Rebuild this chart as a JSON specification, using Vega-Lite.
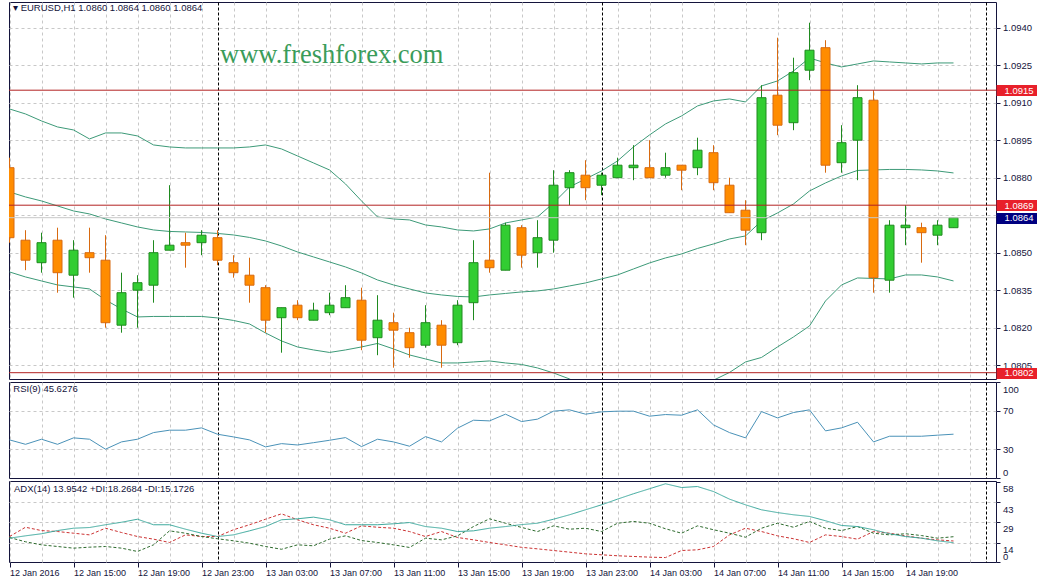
{
  "$schema": "https://vega.github.io/schema/vega-lite/v6.json",
  "background": "#ffffff",
  "padding": {"left": 7, "top": 1, "right": 0, "bottom": 0},
  "config": {
    "font": "Liberation Sans",
    "view": {"stroke": "#14143c", "strokeWidth": 1},
    "axis": {"labelFont": "Liberation Sans", "labelFontSize": 9.5, "labelColor": "#14143c", "tickColor": "#14143c", "gridColor": "#c8c8c8", "gridDash": [3, 3], "gridWidth": 1, "domain": false},
    "title": {"font": "Liberation Sans", "fontSize": 9.5, "fontWeight": "normal", "color": "#14143c", "anchor": "start", "frame": "group", "baseline": "alphabetic"}
  },
  "datasets": {
    "bars": [
      {"t":"2016-01-12T11:00:00Z","o":1.0884,"h":1.0888,"l":1.0854,"c":1.0856,"bu":1.09075,"bm":1.08743,"bl":1.08423,"rsi":39.7,"adx":17.2,"pdi":17.7,"mdi":18.4},
      {"t":"2016-01-12T12:00:00Z","o":1.0855,"h":1.0859,"l":1.0843,"c":1.0847,"bu":1.09055,"bm":1.08723,"bl":1.08403,"rsi":35.1,"adx":18.9,"pdi":14.6,"mdi":25.1},
      {"t":"2016-01-12T13:00:00Z","o":1.0846,"h":1.0858,"l":1.0842,"c":1.0854,"bu":1.09027,"bm":1.08707,"bl":1.08387,"rsi":40.4,"adx":20.4,"pdi":12.4,"mdi":22.7},
      {"t":"2016-01-12T14:00:00Z","o":1.0855,"h":1.0860,"l":1.0834,"c":1.0842,"bu":1.09003,"bm":1.08687,"bl":1.08371,"rsi":35.1,"adx":22.7,"pdi":11.2,"mdi":22.0},
      {"t":"2016-01-12T15:00:00Z","o":1.0841,"h":1.0855,"l":1.0832,"c":1.0851,"bu":1.08991,"bm":1.08667,"bl":1.08363,"rsi":41.8,"adx":24.4,"pdi":10.0,"mdi":20.8},
      {"t":"2016-01-12T16:00:00Z","o":1.0850,"h":1.0860,"l":1.0842,"c":1.0848,"bu":1.08955,"bm":1.08655,"bl":1.08355,"rsi":40.4,"adx":24.9,"pdi":10.7,"mdi":19.6},
      {"t":"2016-01-12T17:00:00Z","o":1.0847,"h":1.0857,"l":1.0820,"c":1.0822,"bu":1.08979,"bm":1.08635,"bl":1.08311,"rsi":30.0,"adx":26.9,"pdi":11.2,"mdi":24.4},
      {"t":"2016-01-12T18:00:00Z","o":1.0821,"h":1.0842,"l":1.0818,"c":1.0834,"bu":1.08979,"bm":1.08619,"bl":1.08275,"rsi":37.6,"adx":28.7,"pdi":10.0,"mdi":21.3},
      {"t":"2016-01-12T19:00:00Z","o":1.0835,"h":1.0841,"l":1.0820,"c":1.0838,"bu":1.08967,"bm":1.08603,"bl":1.08243,"rsi":40.4,"adx":30.9,"pdi":7.6,"mdi":18.4},
      {"t":"2016-01-12T20:00:00Z","o":1.0837,"h":1.0855,"l":1.0830,"c":1.0850,"bu":1.08931,"bm":1.08591,"bl":1.08245,"rsi":47.3,"adx":26.9,"pdi":12.4,"mdi":16.5},
      {"t":"2016-01-12T21:00:00Z","o":1.0851,"h":1.0877,"l":1.0851,"c":1.0853,"bu":1.08923,"bm":1.08585,"bl":1.08245,"rsi":49.8,"adx":26.9,"pdi":22.5,"mdi":14.1},
      {"t":"2016-01-12T22:00:00Z","o":1.0854,"h":1.0858,"l":1.0844,"c":1.0853,"bu":1.08919,"bm":1.08583,"bl":1.08245,"rsi":49.8,"adx":23.7,"pdi":20.8,"mdi":19.6},
      {"t":"2016-01-12T23:00:00Z","o":1.0854,"h":1.0859,"l":1.0849,"c":1.0857,"bu":1.08919,"bm":1.08581,"bl":1.08245,"rsi":52.2,"adx":20.8,"pdi":18.4,"mdi":18.4},
      {"t":"2016-01-13T00:00:00Z","o":1.0856,"h":1.0859,"l":1.0845,"c":1.0847,"bu":1.08919,"bm":1.08577,"bl":1.08239,"rsi":45.6,"adx":18.4,"pdi":16.8,"mdi":18.4},
      {"t":"2016-01-13T01:00:00Z","o":1.0846,"h":1.0849,"l":1.0840,"c":1.0842,"bu":1.08919,"bm":1.08571,"bl":1.08229,"rsi":42.8,"adx":19.6,"pdi":15.3,"mdi":23.3},
      {"t":"2016-01-13T02:00:00Z","o":1.0841,"h":1.0848,"l":1.0830,"c":1.0837,"bu":1.08923,"bm":1.08561,"bl":1.08215,"rsi":39.7,"adx":22.5,"pdi":13.6,"mdi":26.9},
      {"t":"2016-01-13T03:00:00Z","o":1.0836,"h":1.0837,"l":1.0818,"c":1.0823,"bu":1.08931,"bm":1.08547,"bl":1.08179,"rsi":32.4,"adx":25.6,"pdi":11.2,"mdi":30.9},
      {"t":"2016-01-13T04:00:00Z","o":1.0824,"h":1.0828,"l":1.0810,"c":1.0828,"bu":1.08915,"bm":1.08527,"bl":1.08147,"rsi":35.8,"adx":30.5,"pdi":9.2,"mdi":34.8},
      {"t":"2016-01-13T05:00:00Z","o":1.0829,"h":1.0831,"l":1.0823,"c":1.0824,"bu":1.08887,"bm":1.08503,"bl":1.08123,"rsi":34.4,"adx":31.2,"pdi":12.4,"mdi":30.5},
      {"t":"2016-01-13T06:00:00Z","o":1.0823,"h":1.0830,"l":1.0823,"c":1.0827,"bu":1.08859,"bm":1.08483,"bl":1.08111,"rsi":36.8,"adx":32.4,"pdi":11.7,"mdi":26.9},
      {"t":"2016-01-13T07:00:00Z","o":1.0826,"h":1.0834,"l":1.0825,"c":1.0829,"bu":1.08831,"bm":1.08463,"bl":1.08101,"rsi":39.3,"adx":30.5,"pdi":16.5,"mdi":24.4},
      {"t":"2016-01-13T08:00:00Z","o":1.0828,"h":1.0837,"l":1.0828,"c":1.0832,"bu":1.08775,"bm":1.08443,"bl":1.08111,"rsi":42.1,"adx":26.9,"pdi":18.9,"mdi":20.8},
      {"t":"2016-01-13T09:00:00Z","o":1.0831,"h":1.0836,"l":1.0811,"c":1.0815,"bu":1.08707,"bm":1.08419,"bl":1.08123,"rsi":32.7,"adx":26.9,"pdi":15.5,"mdi":26.1},
      {"t":"2016-01-13T10:00:00Z","o":1.0816,"h":1.0833,"l":1.0809,"c":1.0823,"bu":1.08643,"bm":1.08391,"bl":1.08137,"rsi":40.4,"adx":26.9,"pdi":14.1,"mdi":25.1},
      {"t":"2016-01-13T11:00:00Z","o":1.0822,"h":1.0826,"l":1.0804,"c":1.0819,"bu":1.08635,"bm":1.08371,"bl":1.08115,"rsi":37.6,"adx":27.6,"pdi":12.4,"mdi":24.4},
      {"t":"2016-01-13T12:00:00Z","o":1.0818,"h":1.0820,"l":1.0808,"c":1.0812,"bu":1.08631,"bm":1.08355,"bl":1.08091,"rsi":33.1,"adx":28.5,"pdi":10.5,"mdi":22.0},
      {"t":"2016-01-13T13:00:00Z","o":1.0813,"h":1.0829,"l":1.0812,"c":1.0822,"bu":1.08611,"bm":1.08339,"bl":1.08075,"rsi":43.1,"adx":25.6,"pdi":17.2,"mdi":18.4},
      {"t":"2016-01-13T14:00:00Z","o":1.0821,"h":1.0823,"l":1.0804,"c":1.0813,"bu":1.08603,"bm":1.08331,"bl":1.08059,"rsi":37.6,"adx":24.4,"pdi":16.0,"mdi":22.0},
      {"t":"2016-01-13T15:00:00Z","o":1.0814,"h":1.0831,"l":1.0813,"c":1.0829,"bu":1.08591,"bm":1.08325,"bl":1.08059,"rsi":51.9,"adx":22.0,"pdi":18.9,"mdi":17.7},
      {"t":"2016-01-13T16:00:00Z","o":1.0830,"h":1.0855,"l":1.0823,"c":1.0846,"bu":1.08587,"bm":1.08323,"bl":1.08063,"rsi":60.2,"adx":22.5,"pdi":25.6,"mdi":16.0},
      {"t":"2016-01-13T17:00:00Z","o":1.0847,"h":1.0882,"l":1.0842,"c":1.0844,"bu":1.08595,"bm":1.08331,"bl":1.08067,"rsi":59.5,"adx":24.4,"pdi":31.2,"mdi":14.1},
      {"t":"2016-01-13T18:00:00Z","o":1.0843,"h":1.0862,"l":1.0843,"c":1.0861,"bu":1.08619,"bm":1.08337,"bl":1.08059,"rsi":66.5,"adx":25.6,"pdi":28.0,"mdi":12.4},
      {"t":"2016-01-13T19:00:00Z","o":1.0860,"h":1.0861,"l":1.0844,"c":1.0849,"bu":1.08631,"bm":1.08343,"bl":1.08053,"rsi":58.8,"adx":27.0,"pdi":25.0,"mdi":10.6},
      {"t":"2016-01-13T20:00:00Z","o":1.0850,"h":1.0863,"l":1.0844,"c":1.0856,"bu":1.08643,"bm":1.08347,"bl":1.08039,"rsi":61.3,"adx":28.0,"pdi":22.0,"mdi":9.5},
      {"t":"2016-01-13T21:00:00Z","o":1.0855,"h":1.0883,"l":1.0850,"c":1.0877,"bu":1.08699,"bm":1.08355,"bl":1.08019,"rsi":69.6,"adx":30.9,"pdi":26.1,"mdi":8.3},
      {"t":"2016-01-13T22:00:00Z","o":1.0876,"h":1.0883,"l":1.0869,"c":1.0882,"bu":1.08763,"bm":1.08367,"bl":1.07995,"rsi":71.0,"adx":34.1,"pdi":23.7,"mdi":7.1},
      {"t":"2016-01-13T23:00:00Z","o":1.0881,"h":1.0887,"l":1.0871,"c":1.0876,"bu":1.08795,"bm":1.08379,"bl":1.07963,"rsi":66.5,"adx":37.7,"pdi":24.4,"mdi":5.9},
      {"t":"2016-01-14T00:00:00Z","o":1.0877,"h":1.0882,"l":1.0873,"c":1.0881,"bu":1.08827,"bm":1.08395,"bl":1.07963,"rsi":68.9,"adx":41.3,"pdi":22.0,"mdi":5.2},
      {"t":"2016-01-14T01:00:00Z","o":1.0880,"h":1.0888,"l":1.0880,"c":1.0885,"bu":1.08867,"bm":1.08411,"bl":1.07955,"rsi":69.6,"adx":45.4,"pdi":28.0,"mdi":4.5},
      {"t":"2016-01-14T02:00:00Z","o":1.0884,"h":1.0893,"l":1.0879,"c":1.0885,"bu":1.08923,"bm":1.08435,"bl":1.07947,"rsi":69.6,"adx":49.3,"pdi":29.3,"mdi":4.0},
      {"t":"2016-01-14T03:00:00Z","o":1.0884,"h":1.0895,"l":1.0880,"c":1.0880,"bu":1.08971,"bm":1.08459,"bl":1.07947,"rsi":64.4,"adx":52.9,"pdi":28.0,"mdi":3.5},
      {"t":"2016-01-14T04:00:00Z","o":1.0881,"h":1.0890,"l":1.0880,"c":1.0884,"bu":1.09015,"bm":1.08479,"bl":1.07943,"rsi":66.1,"adx":56.5,"pdi":24.0,"mdi":3.2},
      {"t":"2016-01-14T05:00:00Z","o":1.0885,"h":1.0885,"l":1.0875,"c":1.0883,"bu":1.09047,"bm":1.08495,"bl":1.07943,"rsi":65.4,"adx":53.8,"pdi":20.8,"mdi":8.3},
      {"t":"2016-01-14T06:00:00Z","o":1.0884,"h":1.0896,"l":1.0881,"c":1.0891,"bu":1.09087,"bm":1.08517,"bl":1.07947,"rsi":71.0,"adx":54.5,"pdi":26.1,"mdi":8.8},
      {"t":"2016-01-14T07:00:00Z","o":1.0890,"h":1.0893,"l":1.0875,"c":1.0878,"bu":1.09107,"bm":1.08535,"bl":1.07990,"rsi":55.3,"adx":50.9,"pdi":23.3,"mdi":11.2},
      {"t":"2016-01-14T08:00:00Z","o":1.0877,"h":1.0880,"l":1.0866,"c":1.0866,"bu":1.09115,"bm":1.08555,"bl":1.08021,"rsi":47.3,"adx":45.4,"pdi":20.8,"mdi":19.6},
      {"t":"2016-01-14T09:00:00Z","o":1.0867,"h":1.0871,"l":1.0853,"c":1.0859,"bu":1.09103,"bm":1.08567,"bl":1.08063,"rsi":41.8,"adx":41.3,"pdi":17.9,"mdi":24.4},
      {"t":"2016-01-14T10:00:00Z","o":1.0858,"h":1.0917,"l":1.0855,"c":1.0912,"bu":1.09167,"bm":1.08627,"bl":1.08081,"rsi":69.2,"adx":37.7,"pdi":24.4,"mdi":22.0},
      {"t":"2016-01-14T11:00:00Z","o":1.0913,"h":1.0936,"l":1.0897,"c":1.0901,"bu":1.09187,"bm":1.08659,"bl":1.08123,"rsi":62.6,"adx":35.7,"pdi":28.0,"mdi":18.9},
      {"t":"2016-01-14T12:00:00Z","o":1.0902,"h":1.0928,"l":1.0899,"c":1.0922,"bu":1.09227,"bm":1.08695,"bl":1.08163,"rsi":68.2,"adx":34.1,"pdi":25.1,"mdi":16.8},
      {"t":"2016-01-14T13:00:00Z","o":1.0923,"h":1.0942,"l":1.0919,"c":1.0931,"bu":1.09279,"bm":1.08747,"bl":1.08207,"rsi":71.0,"adx":32.9,"pdi":29.3,"mdi":14.1},
      {"t":"2016-01-14T14:00:00Z","o":1.0932,"h":1.0935,"l":1.0882,"c":1.0885,"bu":1.09259,"bm":1.08779,"bl":1.08307,"rsi":49.1,"adx":29.8,"pdi":24.4,"mdi":19.6},
      {"t":"2016-01-14T15:00:00Z","o":1.0886,"h":1.0901,"l":1.0882,"c":1.0894,"bu":1.09243,"bm":1.08807,"bl":1.08371,"rsi":52.2,"adx":26.4,"pdi":22.7,"mdi":18.4},
      {"t":"2016-01-14T16:00:00Z","o":1.0895,"h":1.0917,"l":1.0879,"c":1.0912,"bu":1.09255,"bm":1.08829,"bl":1.08399,"rsi":58.1,"adx":25.6,"pdi":25.6,"mdi":16.5},
      {"t":"2016-01-14T17:00:00Z","o":1.0911,"h":1.0915,"l":1.0834,"c":1.0840,"bu":1.09267,"bm":1.08831,"bl":1.08397,"rsi":37.6,"adx":23.3,"pdi":20.8,"mdi":22.0},
      {"t":"2016-01-14T18:00:00Z","o":1.0839,"h":1.0863,"l":1.0834,"c":1.0861,"bu":1.09263,"bm":1.08833,"bl":1.08395,"rsi":43.5,"adx":20.4,"pdi":19.6,"mdi":20.8},
      {"t":"2016-01-14T19:00:00Z","o":1.0860,"h":1.0869,"l":1.0853,"c":1.0861,"bu":1.09259,"bm":1.08833,"bl":1.08411,"rsi":43.5,"adx":18.4,"pdi":20.4,"mdi":18.9},
      {"t":"2016-01-14T20:00:00Z","o":1.0860,"h":1.0862,"l":1.0846,"c":1.0858,"bu":1.09255,"bm":1.08831,"bl":1.08411,"rsi":43.5,"adx":17.2,"pdi":19.1,"mdi":17.2},
      {"t":"2016-01-14T21:00:00Z","o":1.0857,"h":1.0863,"l":1.0853,"c":1.0861,"bu":1.09259,"bm":1.08827,"bl":1.08403,"rsi":44.6,"adx":15.3,"pdi":17.2,"mdi":16.0},
      {"t":"2016-01-14T22:00:00Z","o":1.0860,"h":1.0864,"l":1.0860,"c":1.0864,"bu":1.09259,"bm":1.08819,"bl":1.08387,"rsi":45.6276,"adx":13.9542,"pdi":18.2684,"mdi":15.1726}
    ],
    "levels": [{"p": 1.0915}, {"p": 1.0869}, {"p": 1.0802}],
    "bid": [{"p": 1.0864}],
    "wm": [{"label": "www.freshforex.com"}]
  },
  "vconcat": [
    {
      "width": 987,
      "height": 377,
      "title": {"text": "▾ EURUSD,H1 1.0860 1.0864 1.0860 1.0864", "offset": -10, "dx": 4},
      "layer": [
        {
          "data": {"name": "bars"},
          "encoding": {
            "x": {
              "field": "t", "type": "temporal",
              "scale": {"type": "utc", "padding": 0, "domain": [{"year":2016,"month":1,"date":12,"hours":10,"minutes":58,"seconds":7,"milliseconds":500,"utc":true}, {"year":2016,"month":1,"date":15,"hours":0,"minutes":39,"seconds":22,"milliseconds":500,"utc":true}]},
              "axis": {
                "title": null, "labels": false, "ticks": false, "domain": false, "grid": true,
                "gridColor": {"condition": {"test": "utchours(datum.value) == 0", "value": "#000000"}, "value": "#c8c8c8"},
                "gridDash": {"condition": {"test": "utchours(datum.value) == 0", "value": [3, 2]}, "value": [3, 3]},
                "values": [
                  {"year":2016,"month":1,"date":12,"hours":11,"utc":true},{"year":2016,"month":1,"date":12,"hours":13,"utc":true},{"year":2016,"month":1,"date":12,"hours":15,"utc":true},{"year":2016,"month":1,"date":12,"hours":17,"utc":true},{"year":2016,"month":1,"date":12,"hours":19,"utc":true},{"year":2016,"month":1,"date":12,"hours":21,"utc":true},{"year":2016,"month":1,"date":12,"hours":23,"utc":true},
                  {"year":2016,"month":1,"date":13,"hours":0,"utc":true},{"year":2016,"month":1,"date":13,"hours":1,"utc":true},{"year":2016,"month":1,"date":13,"hours":3,"utc":true},{"year":2016,"month":1,"date":13,"hours":5,"utc":true},{"year":2016,"month":1,"date":13,"hours":7,"utc":true},{"year":2016,"month":1,"date":13,"hours":9,"utc":true},{"year":2016,"month":1,"date":13,"hours":11,"utc":true},{"year":2016,"month":1,"date":13,"hours":13,"utc":true},{"year":2016,"month":1,"date":13,"hours":15,"utc":true},{"year":2016,"month":1,"date":13,"hours":17,"utc":true},{"year":2016,"month":1,"date":13,"hours":19,"utc":true},{"year":2016,"month":1,"date":13,"hours":21,"utc":true},{"year":2016,"month":1,"date":13,"hours":23,"utc":true},
                  {"year":2016,"month":1,"date":14,"hours":0,"utc":true},{"year":2016,"month":1,"date":14,"hours":1,"utc":true},{"year":2016,"month":1,"date":14,"hours":3,"utc":true},{"year":2016,"month":1,"date":14,"hours":5,"utc":true},{"year":2016,"month":1,"date":14,"hours":7,"utc":true},{"year":2016,"month":1,"date":14,"hours":9,"utc":true},{"year":2016,"month":1,"date":14,"hours":11,"utc":true},{"year":2016,"month":1,"date":14,"hours":13,"utc":true},{"year":2016,"month":1,"date":14,"hours":15,"utc":true},{"year":2016,"month":1,"date":14,"hours":17,"utc":true},{"year":2016,"month":1,"date":14,"hours":19,"utc":true},{"year":2016,"month":1,"date":14,"hours":21,"utc":true},{"year":2016,"month":1,"date":14,"hours":23,"utc":true},
                  {"year":2016,"month":1,"date":15,"hours":0,"utc":true}
                ]
              }
            }
          },
          "layer": [
            {
              "transform": [{"fold": ["bu", "bm", "bl"], "as": ["band", "bv"]}],
              "mark": {"type": "line", "color": "#3d9a78", "strokeWidth": 1, "clip": true},
              "encoding": {
                "detail": {"field": "band", "type": "nominal"},
                "y": {"field": "bv", "type": "quantitative", "scale": {"domain": [1.079948, 1.095028], "nice": false, "zero": false},
                      "axis": {"orient": "right", "title": null, "format": ".4f", "grid": true, "tickSize": 4, "labelPadding": 2.5, "labelOverlap": false, "domain": false,
                               "values": [1.0805, 1.082, 1.0835, 1.085, 1.0865, 1.088, 1.0895, 1.091, 1.0925, 1.094]}}
              }
            },
            {
              "mark": {"type": "rule", "strokeWidth": 1, "clip": true},
              "encoding": {
                "y": {"field": "l", "type": "quantitative", "scale": {"domain": [1.079948, 1.095028], "nice": false, "zero": false}, "axis": null},
                "y2": {"field": "h"},
                "stroke": {"condition": {"test": "datum.c >= datum.o", "value": "#1f8a1f"}, "value": "#d86a10"}
              }
            },
            {
              "mark": {"type": "bar", "width": 9, "strokeWidth": 1, "clip": true},
              "encoding": {
                "y": {"field": "o", "type": "quantitative", "scale": {"domain": [1.079948, 1.095028], "nice": false, "zero": false}, "axis": null},
                "y2": {"field": "c"},
                "fill": {"condition": {"test": "datum.c >= datum.o", "value": "#32cd32"}, "value": "#ff8c00"},
                "stroke": {"condition": {"test": "datum.c >= datum.o", "value": "#1f8a1f"}, "value": "#d86a10"}
              }
            }
          ],
          "resolve": {"scale": {"y": "independent"}, "axis": {"y": "independent"}}
        },
        {
          "data": {"name": "wm"},
          "mark": {"type": "text", "font": "Liberation Serif", "fontSize": 26.5, "color": "#3a9c5a", "align": "left", "baseline": "alphabetic"},
          "encoding": {
            "text": {"field": "label"},
            "x": {
              "datum": {"year":2016,"month":1,"date":13,"hours":0,"minutes":9,"seconds":22,"utc":true}, "type": "temporal",
              "scale": {"type": "utc", "padding": 0, "domain": [{"year":2016,"month":1,"date":12,"hours":10,"minutes":58,"seconds":7,"milliseconds":500,"utc":true}, {"year":2016,"month":1,"date":15,"hours":0,"minutes":39,"seconds":22,"milliseconds":500,"utc":true}]},
              "axis": {
                "title": null, "labels": false, "ticks": false, "domain": false, "grid": true,
                "gridColor": {"condition": {"test": "utchours(datum.value) == 0", "value": "#000000"}, "value": "#c8c8c8"},
                "gridDash": {"condition": {"test": "utchours(datum.value) == 0", "value": [3, 2]}, "value": [3, 3]},
                "values": [
                  {"year":2016,"month":1,"date":12,"hours":11,"utc":true},{"year":2016,"month":1,"date":12,"hours":13,"utc":true},{"year":2016,"month":1,"date":12,"hours":15,"utc":true},{"year":2016,"month":1,"date":12,"hours":17,"utc":true},{"year":2016,"month":1,"date":12,"hours":19,"utc":true},{"year":2016,"month":1,"date":12,"hours":21,"utc":true},{"year":2016,"month":1,"date":12,"hours":23,"utc":true},
                  {"year":2016,"month":1,"date":13,"hours":0,"utc":true},{"year":2016,"month":1,"date":13,"hours":1,"utc":true},{"year":2016,"month":1,"date":13,"hours":3,"utc":true},{"year":2016,"month":1,"date":13,"hours":5,"utc":true},{"year":2016,"month":1,"date":13,"hours":7,"utc":true},{"year":2016,"month":1,"date":13,"hours":9,"utc":true},{"year":2016,"month":1,"date":13,"hours":11,"utc":true},{"year":2016,"month":1,"date":13,"hours":13,"utc":true},{"year":2016,"month":1,"date":13,"hours":15,"utc":true},{"year":2016,"month":1,"date":13,"hours":17,"utc":true},{"year":2016,"month":1,"date":13,"hours":19,"utc":true},{"year":2016,"month":1,"date":13,"hours":21,"utc":true},{"year":2016,"month":1,"date":13,"hours":23,"utc":true},
                  {"year":2016,"month":1,"date":14,"hours":0,"utc":true},{"year":2016,"month":1,"date":14,"hours":1,"utc":true},{"year":2016,"month":1,"date":14,"hours":3,"utc":true},{"year":2016,"month":1,"date":14,"hours":5,"utc":true},{"year":2016,"month":1,"date":14,"hours":7,"utc":true},{"year":2016,"month":1,"date":14,"hours":9,"utc":true},{"year":2016,"month":1,"date":14,"hours":11,"utc":true},{"year":2016,"month":1,"date":14,"hours":13,"utc":true},{"year":2016,"month":1,"date":14,"hours":15,"utc":true},{"year":2016,"month":1,"date":14,"hours":17,"utc":true},{"year":2016,"month":1,"date":14,"hours":19,"utc":true},{"year":2016,"month":1,"date":14,"hours":21,"utc":true},{"year":2016,"month":1,"date":14,"hours":23,"utc":true},
                  {"year":2016,"month":1,"date":15,"hours":0,"utc":true}
                ]
              }
            },
            "y": {"datum": 1.0926, "type": "quantitative", "scale": {"domain": [1.079948, 1.095028], "nice": false, "zero": false}, "axis": null}
          }
        },
        {
          "data": {"name": "levels"},
          "mark": {"type": "rule", "color": "#b22222", "strokeWidth": 1},
          "encoding": {
            "y": {"field": "p", "type": "quantitative", "scale": {"domain": [1.079948, 1.095028], "nice": false, "zero": false},
                  "axis": {"orient": "right", "title": null, "format": ".4f", "grid": false, "domain": false, "ticks": true, "tickSize": 43, "tickWidth": 11, "tickColor": "#e8202a", "tickCap": "butt",
                           "labelColor": "#ffffff", "labelPadding": -35, "labelOverlap": false, "zindex": 1, "values": [1.0915, 1.0869, 1.0802]}}
          }
        },
        {
          "data": {"name": "bid"},
          "mark": {"type": "rule", "color": "#c8c8c8", "strokeWidth": 1},
          "encoding": {
            "y": {"field": "p", "type": "quantitative", "scale": {"domain": [1.079948, 1.095028], "nice": false, "zero": false},
                  "axis": {"orient": "right", "title": null, "format": ".4f", "grid": false, "domain": false, "ticks": true, "tickSize": 43, "tickWidth": 11, "tickColor": "#000080", "tickCap": "butt",
                           "labelColor": "#ffffff", "labelPadding": -35, "labelOverlap": false, "zindex": 1, "values": [1.0864]}}
          }
        }
      ],
      "resolve": {"scale": {"y": "independent"}, "axis": {"y": "independent"}}
    },
    {
      "width": 987,
      "height": 96,
      "title": {"text": "RSI(9) 45.6276", "offset": -11.7, "dx": 4.3},
      "data": {"name": "bars"},
      "mark": {"type": "line", "color": "#4a92b8", "strokeWidth": 1},
      "encoding": {
        "x": {
          "field": "t", "type": "temporal",
          "scale": {"type": "utc", "padding": 0, "domain": [{"year":2016,"month":1,"date":12,"hours":10,"minutes":58,"seconds":7,"milliseconds":500,"utc":true}, {"year":2016,"month":1,"date":15,"hours":0,"minutes":39,"seconds":22,"milliseconds":500,"utc":true}]},
          "axis": {
            "title": null, "labels": false, "ticks": false, "domain": false, "grid": true,
            "gridColor": {"condition": {"test": "utchours(datum.value) == 0", "value": "#000000"}, "value": "#c8c8c8"},
            "gridDash": {"condition": {"test": "utchours(datum.value) == 0", "value": [3, 2]}, "value": [3, 3]},
            "values": [
              {"year":2016,"month":1,"date":12,"hours":11,"utc":true},{"year":2016,"month":1,"date":12,"hours":13,"utc":true},{"year":2016,"month":1,"date":12,"hours":15,"utc":true},{"year":2016,"month":1,"date":12,"hours":17,"utc":true},{"year":2016,"month":1,"date":12,"hours":19,"utc":true},{"year":2016,"month":1,"date":12,"hours":21,"utc":true},{"year":2016,"month":1,"date":12,"hours":23,"utc":true},
              {"year":2016,"month":1,"date":13,"hours":0,"utc":true},{"year":2016,"month":1,"date":13,"hours":1,"utc":true},{"year":2016,"month":1,"date":13,"hours":3,"utc":true},{"year":2016,"month":1,"date":13,"hours":5,"utc":true},{"year":2016,"month":1,"date":13,"hours":7,"utc":true},{"year":2016,"month":1,"date":13,"hours":9,"utc":true},{"year":2016,"month":1,"date":13,"hours":11,"utc":true},{"year":2016,"month":1,"date":13,"hours":13,"utc":true},{"year":2016,"month":1,"date":13,"hours":15,"utc":true},{"year":2016,"month":1,"date":13,"hours":17,"utc":true},{"year":2016,"month":1,"date":13,"hours":19,"utc":true},{"year":2016,"month":1,"date":13,"hours":21,"utc":true},{"year":2016,"month":1,"date":13,"hours":23,"utc":true},
              {"year":2016,"month":1,"date":14,"hours":0,"utc":true},{"year":2016,"month":1,"date":14,"hours":1,"utc":true},{"year":2016,"month":1,"date":14,"hours":3,"utc":true},{"year":2016,"month":1,"date":14,"hours":5,"utc":true},{"year":2016,"month":1,"date":14,"hours":7,"utc":true},{"year":2016,"month":1,"date":14,"hours":9,"utc":true},{"year":2016,"month":1,"date":14,"hours":11,"utc":true},{"year":2016,"month":1,"date":14,"hours":13,"utc":true},{"year":2016,"month":1,"date":14,"hours":15,"utc":true},{"year":2016,"month":1,"date":14,"hours":17,"utc":true},{"year":2016,"month":1,"date":14,"hours":19,"utc":true},{"year":2016,"month":1,"date":14,"hours":21,"utc":true},{"year":2016,"month":1,"date":14,"hours":23,"utc":true},
              {"year":2016,"month":1,"date":15,"hours":0,"utc":true}
            ]
          }
        },
        "y": {
          "field": "rsi", "type": "quantitative",
          "scale": {"domain": [0, 100], "nice": false, "zero": false},
          "axis": {
            "orient": "right", "title": null, "values": [0, 30, 70, 100], "grid": true,
            "gridOpacity": {"condition": {"test": "datum.value == 30 || datum.value == 70", "value": 1}, "value": 0},
            "tickSize": 4, "labelPadding": 2.5, "labelOverlap": false, "domain": false,
            "labelBaseline": {"condition": [{"test": "datum.value == 100", "value": "top"}, {"test": "datum.value == 0", "value": "bottom"}], "value": "middle"},
            "labelOffset": {"condition": [{"test": "datum.value == 100", "value": 2}, {"test": "datum.value == 0", "value": -1}], "value": 0}
          }
        }
      }
    },
    {
      "width": 987,
      "height": 81,
      "title": {"text": "ADX(14) 13.9542 +DI:18.2684 -DI:15.1726", "offset": -12.7, "dx": 5},
      "data": {"name": "bars"},
      "transform": [{"fold": ["mdi", "pdi", "adx"], "as": ["series", "val"]}],
      "mark": {"type": "line", "strokeWidth": 1},
      "encoding": {
        "x": {
          "field": "t", "type": "temporal",
          "scale": {"type": "utc", "padding": 0, "domain": [{"year":2016,"month":1,"date":12,"hours":10,"minutes":58,"seconds":7,"milliseconds":500,"utc":true}, {"year":2016,"month":1,"date":15,"hours":0,"minutes":39,"seconds":22,"milliseconds":500,"utc":true}]},
          "axis": {
            "orient": "bottom", "title": null, "domain": false, "grid": true,
            "gridColor": {"condition": {"test": "utchours(datum.value) == 0", "value": "#000000"}, "value": "#c8c8c8"},
            "gridDash": {"condition": {"test": "utchours(datum.value) == 0", "value": [3, 2]}, "value": [3, 3]},
            "ticks": true, "tickSize": 5,
            "tickOpacity": {"condition": {"test": "utchours(datum.value) % 4 == 3 && !(utcdate(datum.value) == 14 && utchours(datum.value) == 23)", "value": 1}, "value": 0},
            "labelExpr": "(utchours(datum.value) % 4 != 3 || (utcdate(datum.value) == 14 && utchours(datum.value) == 23)) ? '' : ((utcdate(datum.value) == 12 && utchours(datum.value) == 11) ? '12 Jan 2016' : utcFormat(datum.value, '%d %b %H:%M'))",
            "labelAlign": "left", "labelBaseline": "top", "labelPadding": 1, "labelFontSize": 9,
            "labelFlush": false, "labelOverlap": false, "labelBound": false,
            "values": [
              {"year":2016,"month":1,"date":12,"hours":11,"utc":true},{"year":2016,"month":1,"date":12,"hours":13,"utc":true},{"year":2016,"month":1,"date":12,"hours":15,"utc":true},{"year":2016,"month":1,"date":12,"hours":17,"utc":true},{"year":2016,"month":1,"date":12,"hours":19,"utc":true},{"year":2016,"month":1,"date":12,"hours":21,"utc":true},{"year":2016,"month":1,"date":12,"hours":23,"utc":true},
              {"year":2016,"month":1,"date":13,"hours":0,"utc":true},{"year":2016,"month":1,"date":13,"hours":1,"utc":true},{"year":2016,"month":1,"date":13,"hours":3,"utc":true},{"year":2016,"month":1,"date":13,"hours":5,"utc":true},{"year":2016,"month":1,"date":13,"hours":7,"utc":true},{"year":2016,"month":1,"date":13,"hours":9,"utc":true},{"year":2016,"month":1,"date":13,"hours":11,"utc":true},{"year":2016,"month":1,"date":13,"hours":13,"utc":true},{"year":2016,"month":1,"date":13,"hours":15,"utc":true},{"year":2016,"month":1,"date":13,"hours":17,"utc":true},{"year":2016,"month":1,"date":13,"hours":19,"utc":true},{"year":2016,"month":1,"date":13,"hours":21,"utc":true},{"year":2016,"month":1,"date":13,"hours":23,"utc":true},
              {"year":2016,"month":1,"date":14,"hours":0,"utc":true},{"year":2016,"month":1,"date":14,"hours":1,"utc":true},{"year":2016,"month":1,"date":14,"hours":3,"utc":true},{"year":2016,"month":1,"date":14,"hours":5,"utc":true},{"year":2016,"month":1,"date":14,"hours":7,"utc":true},{"year":2016,"month":1,"date":14,"hours":9,"utc":true},{"year":2016,"month":1,"date":14,"hours":11,"utc":true},{"year":2016,"month":1,"date":14,"hours":13,"utc":true},{"year":2016,"month":1,"date":14,"hours":15,"utc":true},{"year":2016,"month":1,"date":14,"hours":17,"utc":true},{"year":2016,"month":1,"date":14,"hours":19,"utc":true},{"year":2016,"month":1,"date":14,"hours":21,"utc":true},{"year":2016,"month":1,"date":14,"hours":23,"utc":true},
              {"year":2016,"month":1,"date":15,"hours":0,"utc":true}
            ]
          }
        },
        "y": {
          "field": "val", "type": "quantitative",
          "scale": {"domain": [0, 58.5], "nice": false, "zero": false},
          "axis": {
            "orient": "right", "title": null, "values": [0, 14, 29, 43, 58], "grid": true,
            "gridOpacity": {"condition": {"test": "datum.value > 0 && datum.value < 58", "value": 1}, "value": 0},
            "tickSize": 4, "labelPadding": 2.5, "labelOverlap": false, "domain": false,
            "labelBaseline": {"condition": {"test": "datum.value == 0", "value": "bottom"}, "value": "top"},
            "labelOffset": {"condition": {"test": "datum.value == 0", "value": -1}, "value": 2}
          }
        },
        "color": {"field": "series", "type": "nominal", "scale": {"domain": ["mdi", "pdi", "adx"], "range": ["#cc3333", "#2e6b2e", "#3aa89c"]}, "legend": null},
        "strokeDash": {"field": "series", "type": "nominal", "scale": {"domain": ["mdi", "pdi", "adx"], "range": [[3, 2], [3, 2], [1, 0]]}, "legend": null}
      }
    }
  ],
  "spacing": 3,
  "bounds": "flush"
}
